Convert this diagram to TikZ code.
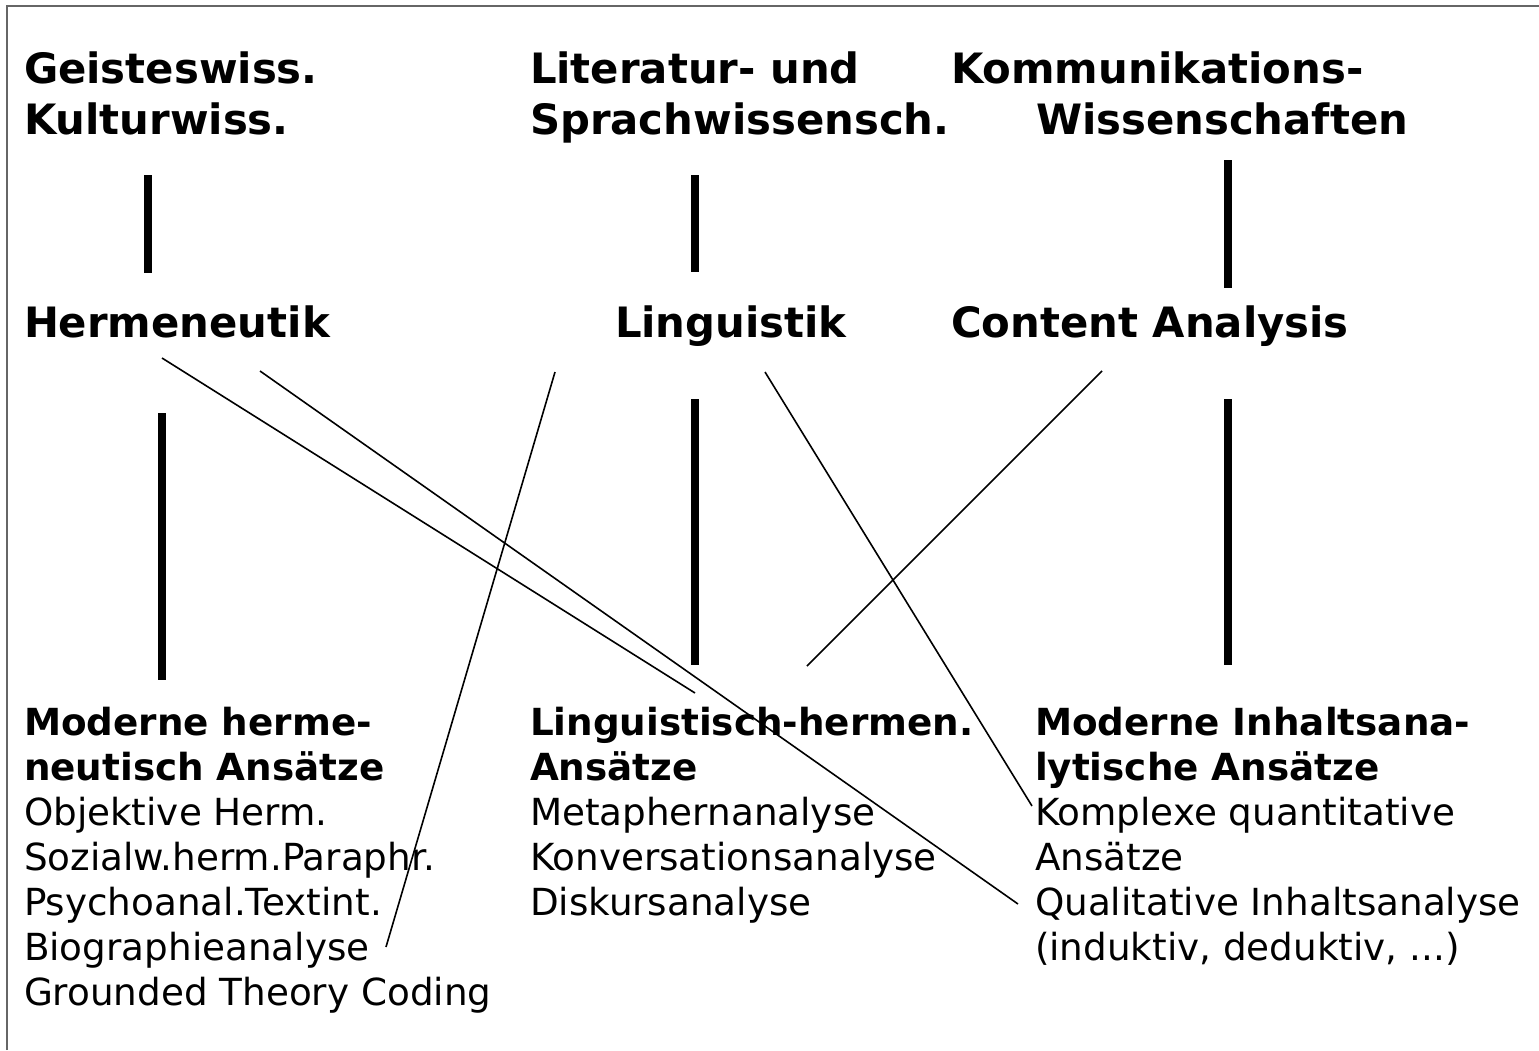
\documentclass[tikz,border=0pt]{standalone}
\usepackage{fontspec}
\setmainfont{DejaVu Sans}
\newcommand{\stk}[1]{\begin{tabular}[t]{@{}l@{}}#1\end{tabular}}
\tikzset{
  txt/.style={anchor=base west, inner sep=0pt, outer sep=0pt, font=\fontsize{37.3}{45}\selectfont},
  toptxt/.style={anchor=base west, inner sep=0pt, outer sep=0pt, font=\fontsize{41.8}{51}\selectfont\bfseries},
  midtxt/.style={anchor=base west, inner sep=0pt, outer sep=0pt, font=\fontsize{41.8}{45}\selectfont\bfseries},
  thick bar/.style={line width=8pt},
  thin link/.style={line width=1.6pt},
  frame/.style={line width=1.5pt, draw=black!60}
}
\begin{document}
\begin{tikzpicture}[x=1pt,y=-1pt]
\useasboundingbox (0,0) rectangle (1539,1050);
\draw[frame] (7,1050) -- (7,6) -- (1539,6);

% top level
\node[toptxt] (geist) at (24,83) {\stk{Geisteswiss.\\Kulturwiss.}};
\node[toptxt] (lit) at (530,83) {\stk{Literatur- und\\Sprachwissensch.}};
\node[toptxt] (komm) at (951,83) {\stk{Kommunikations-\\\hspace*{85pt}Wissenschaften}};

% middle level
\node[midtxt] (herm) at (24,337) {Hermeneutik};
\node[midtxt] (ling) at (615,337) {Linguistik};
\node[midtxt] (cont) at (951,337) {Content Analysis};

% bottom level
\node[txt] (modh) at (24,735) {\stk{\textbf{Moderne herme-}\\\textbf{neutisch Ansätze}\\Objektive Herm.\\Sozialw.herm.Paraphr.\\Psychoanal.Textint.\\Biographieanalyse\\Grounded Theory Coding}};
\node[txt] (lingh) at (530,735) {\stk{\textbf{Linguistisch-hermen.}\\\textbf{Ansätze}\\Metaphernanalyse\\Konversationsanalyse\\Diskursanalyse}};
\node[txt] (modi) at (1035,735) {\stk{\textbf{Moderne Inhaltsana-}\\\textbf{lytische Ansätze}\\Komplexe quantitative\\Ansätze\\Qualitative Inhaltsanalyse\\(induktiv, deduktiv, ...)}};

% bar end points
\coordinate (b1a) at (148,175);  \coordinate (b1b) at (148,273);
\coordinate (b2a) at (695,175);  \coordinate (b2b) at (695,272);
\coordinate (b3a) at (1228,160); \coordinate (b3b) at (1228,288);
\coordinate (b4a) at (162,413);  \coordinate (b4b) at (162,680);
\coordinate (b5a) at (695,399);  \coordinate (b5b) at (695,665);
\coordinate (b6a) at (1228,399); \coordinate (b6b) at (1228,665);
\draw[thick bar] (b1a) -- (b1b);
\draw[thick bar] (b2a) -- (b2b);
\draw[thick bar] (b3a) -- (b3b);
\draw[thick bar] (b4a) -- (b4b);
\draw[thick bar] (b5a) -- (b5b);
\draw[thick bar] (b6a) -- (b6b);

% thin link end points
\coordinate (l1a) at (162,358);  \coordinate (l1b) at (695,693);
\coordinate (l2a) at (260,371);  \coordinate (l2b) at (1018,904);
\coordinate (l3a) at (555,372);  \coordinate (l3b) at (386,947);
\coordinate (l4a) at (765,372);  \coordinate (l4b) at (1032,806);
\coordinate (l5a) at (1102,371); \coordinate (l5b) at (807,666);
\draw[thin link] (l1a) -- (l1b);
\draw[thin link] (l2a) -- (l2b);
\draw[thin link] (l3a) -- (l3b);
\draw[thin link] (l4a) -- (l4b);
\draw[thin link] (l5a) -- (l5b);
\end{tikzpicture}
\end{document}
